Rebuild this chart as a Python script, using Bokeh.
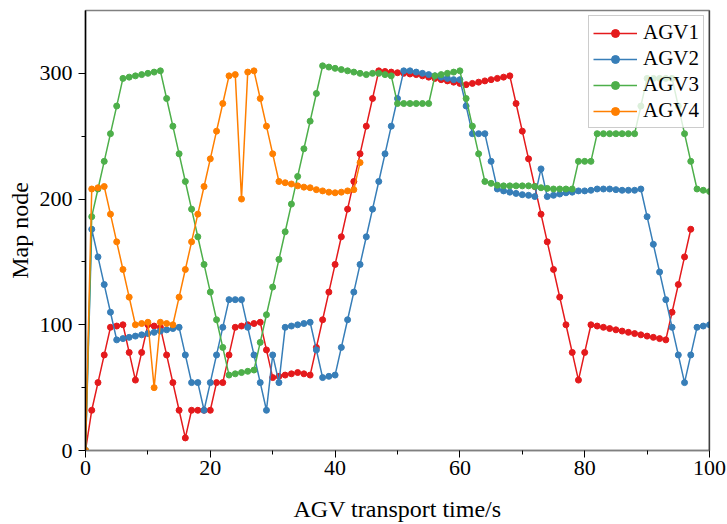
from bokeh.plotting import figure
from bokeh.models import FixedTicker, Legend, LegendItem, Range1d, Span
from bokeh.embed import file_html
from bokeh.resources import INLINE

# AGV map node at each second (t = 0, 1, 2, ...)
agv1 = [0, 32, 54, 76, 98, 99, 100, 78, 56, 78,
        100, 99, 98, 76, 54, 32, 10, 32, 32, 32,
        32, 54, 54, 76, 98, 99, 100, 101, 102, 80,
        58, 59, 60, 61, 62, 61, 60, 82, 104, 126,
        148, 170, 192, 214, 236, 258, 280, 302, 301.5, 301,
        300.5, 300, 299.5, 299, 298, 297, 296, 295, 294, 293,
        292, 291, 292, 293, 294, 295, 296, 297, 298, 276,
        254, 232, 210, 188, 166, 144, 122, 100, 78, 56,
        78, 100, 99, 98, 97, 96, 95, 94, 93, 92,
        91, 90, 89, 88, 110, 132, 154, 176]

agv2 = [0, 176, 154, 132, 110, 88, 89, 90, 91, 92,
        93, 94, 95, 96, 97, 98, 76, 54, 54, 32,
        54, 76, 98, 120, 120, 120, 98, 76, 54, 32,
        76, 54, 98, 99, 100, 101, 102, 80, 58, 59,
        60, 82, 104, 126, 148, 170, 192, 214, 236, 258,
        280, 302, 302, 301, 300, 299, 298, 297, 296, 295,
        295, 274, 252, 252, 252, 230, 208, 206.5, 205.5, 204.5,
        203.5, 203, 202, 224, 202, 203, 204, 205, 205.5, 206.5,
        206.5, 207, 208, 208, 208, 207.5, 207, 207, 207, 208,
        186, 164, 142, 120, 98, 76, 54, 76, 98, 99,
        100]

agv3 = [0, 186, 208, 230, 252, 274, 296, 297, 298, 299,
        300, 301, 302, 280, 258, 236, 214, 192, 170, 148,
        126, 104, 82, 60, 61, 62, 63, 64, 86, 108,
        130, 152, 174, 196, 218, 240, 262, 284, 306, 305,
        304, 303, 302, 301, 300, 299, 300, 300, 299, 298,
        276, 276, 276, 276, 276, 276, 298, 299, 300, 301,
        302, 280, 258, 236, 214, 212.5, 211, 210.5, 210.5, 210.5,
        210.5, 210.5, 210, 209, 208.5, 208, 208, 208, 208, 230,
        230, 230, 252, 252, 252, 252, 252, 252, 252, 274,
        296, 296, 296, 296, 296, 274, 252, 230, 208, 207,
        206]

agv4 = [0, 208, 209, 210, 188, 166, 144, 122, 100, 101,
        102, 50, 102, 101, 100, 122, 144, 166, 188, 210,
        232, 254, 276, 298, 299, 200, 301, 302, 280, 258,
        236, 214, 213, 212, 210.5, 209.5, 209, 207.5, 206.5, 205.5,
        205, 205.5, 206.5, 207.5, 229]

names = ["AGV1", "AGV2", "AGV3", "AGV4"]
series = [agv1, agv2, agv3, agv4]
colors = ["#e41a1c", "#377eb8", "#4daf4a", "#ff7f00"]

x_ticks = [0, 20, 40, 60, 80, 100]
x_minor = [10, 30, 50, 70, 90]
y_ticks = [0, 100, 200, 300]
y_minor = [50, 150, 250]

FONT = "Liberation Serif"

p = figure(width=727, height=524, output_backend="svg", toolbar_location=None,
           x_range=Range1d(0, 100), y_range=Range1d(0, 350),
           min_border_left=85, min_border_right=18, min_border_top=10,
           min_border_bottom=74)
p.background_fill_color = "white"
p.border_fill_color = "white"
p.outline_line_color = "#808080"
p.outline_line_width = 1.5
p.xgrid.grid_line_color = None
p.ygrid.grid_line_color = None

items = []
for name, vals, col in zip(names, series, colors):
    t = list(range(len(vals)))
    r1 = p.line(t, vals, line_color=col, line_width=1.5)
    r2 = p.scatter(t, vals, size=6, fill_color=col, line_color=col)
    items.append(LegendItem(label=name, renderers=[r1, r2]))

for ax in (p.xaxis[0], p.yaxis[0]):
    ax.major_label_text_font = FONT
    ax.major_label_text_font_size = "22px"
    ax.major_label_text_color = "black"
    ax.axis_label_text_font = FONT
    ax.axis_label_text_font_size = "24px"
    ax.axis_label_text_font_style = "normal"
    ax.axis_label_text_color = "black"
    ax.major_tick_in = 0
    ax.major_tick_out = 7
    ax.minor_tick_in = 0
    ax.minor_tick_out = 4
    ax.major_tick_line_color = "black"
    ax.minor_tick_line_color = "black"
    ax.axis_line_width = 1.5

p.xaxis[0].ticker = FixedTicker(ticks=x_ticks, minor_ticks=x_minor)
p.yaxis[0].ticker = FixedTicker(ticks=y_ticks, minor_ticks=y_minor)
p.xaxis[0].axis_label = "AGV transport time/s"
p.yaxis[0].axis_label = "Map node"
p.xaxis[0].axis_line_color = "#808080"
p.yaxis[0].axis_line_color = "black"
p.xaxis[0].major_label_standoff = 3
p.yaxis[0].major_label_standoff = 6
p.xaxis[0].axis_label_standoff = 18
p.yaxis[0].axis_label_standoff = 4

# dark right-hand frame edge
p.add_layout(Span(location=100, dimension="height", line_color="black",
                  line_width=1.5))

legend = Legend(items=items, location="top_right",
                label_text_font=FONT, label_text_font_size="21px",
                label_text_color="black",
                glyph_width=44, glyph_height=20, label_height=20,
                label_standoff=6, spacing=1, padding=4, margin=5,
                border_line_color="#999999", border_line_width=1.2,
                background_fill_color="white", background_fill_alpha=0.8)
p.add_layout(legend)

open("out.html", "w").write(file_html(p, INLINE))
